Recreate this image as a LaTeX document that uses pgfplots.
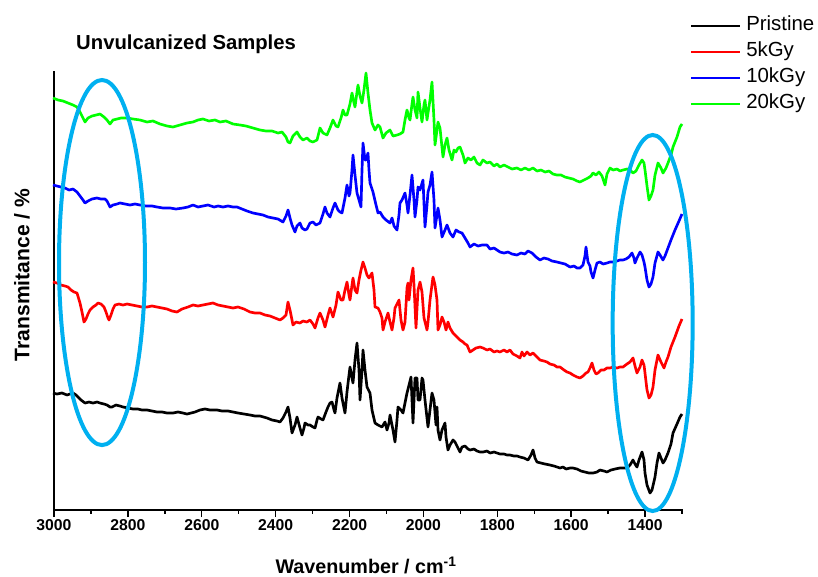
\documentclass[border=0pt]{standalone}
\usepackage{fontspec}
\setmainfont{Liberation Sans}
\usepackage{pgfplots}
\pgfplotsset{compat=1.18}
\usepackage{pgfplotstable}
\definecolor{ell}{RGB}{0,176,240}
\definecolor{cgreen}{RGB}{0,255,0}
\definecolor{cblue}{RGB}{0,0,255}
\definecolor{cred}{RGB}{255,0,0}

% px = horizontal pixel position (3000 cm-1 at 54, 1300 cm-1 at 682), py = vertical pixel position
\pgfplotstableread{
px py
53 393
57 394
62 393
67 395
70 394
73 393
76 395
78 397
81 400
85 403
89 402
93 403
97 402
100 403
104 404
107 405
110 407
112 407
116 405
120 406
123 407
128 408
133 409
138 409
142 410
147 410
152 411
157 412
162 412
167 413
173 413
178 412
183 413
187 414
191 413
195 412
200 410
205 409
210 410
217 410
222 411
228 411
233 412
238 413
244 414
250 415
255 416
260 416
267 418
272 420
277 421
280 422
283 418
286 412
288 407
290 418
292 433
295 425
297 417
300 428
302 435
304 428
305 423
308 425
310 425
313 427
315 428
317 420
318 417
321 419
323 420
326 412
328 407
330 403
332 402
334 410
335 413
337 398
340 383
342 398
345 413
347 392
349 375
350 367
352 378
353 383
355 360
357 343
359 370
360 400
362 370
363 350
365 370
367 387
370 393
372 410
375 423
378 425
382 427
385 422
387 430
389 423
390 415
393 430
395 442
397 420
398 407
401 410
403 413
405 403
407 393
409 385
411 377
412 400
413 423
415 378
417 378
418 400
420 400
422 378
423 380
425 400
428 427
430 410
432 393
434 400
436 425
437 407
438 430
440 440
442 430
445 423
446 437
448 450
450 445
453 440
455 442
458 448
460 452
462 447
465 446
468 449
470 450
474 449
477 451
480 452
483 452
487 451
490 453
494 452
497 453
500 454
504 454
507 455
510 455
514 456
517 456
520 457
524 458
528 460
531 455
533 450
535 458
537 462
541 463
545 464
550 465
554 466
557 467
560 468
563 467
566 469
570 468
573 468
577 469
581 471
585 472
589 473
593 473
597 472
600 470
604 471
607 472
611 470
615 469
620 468
624 468
627 468
630 465
633 460
635 464
637 467
639 460
642 452
644 460
645 473
647 485
650 493
652 490
655 477
657 463
659 453
661 458
663 463
665 460
668 453
671 444
673 433
677 424
680 417
682 414
}\pristine

\pgfplotstableread{
px py
53 282
57 283
61 285
65 286
68 287
71 290
74 292
77 293
80 303
82 312
84 322
86 319
88 314
90 310
93 307
96 305
98 303
101 304
104 307
106 312
108 318
109 320
111 315
113 309
115 305
119 304
123 305
127 304
132 305
137 306
142 307
147 307
152 306
157 307
162 308
167 309
172 311
177 312
182 309
188 307
193 305
198 306
203 305
208 304
213 303
218 305
223 306
228 307
233 308
238 307
244 309
250 312
255 313
260 313
265 315
270 316
275 318
280 320
283 318
286 315
288 302
290 310
293 325
296 322
300 323
303 321
307 322
310 320
313 324
315 328
318 318
320 313
323 320
325 327
328 315
330 308
333 317
336 305
338 292
341 300
343 300
345 290
347 282
349 295
350 300
352 285
353 278
355 290
357 293
359 280
361 270
363 262
365 268
367 275
369 278
372 273
374 290
375 307
378 308
380 312
382 318
383 330
385 322
388 313
390 322
392 330
394 318
395 308
397 304
399 300
401 320
403 330
405 322
407 288
408 283
409 300
411 280
413 268
414 285
416 328
418 290
420 282
422 292
424 318
427 330
428 322
430 300
433 277
435 285
437 300
438 330
440 325
442 317
444 322
446 330
448 322
450 328
453 333
455 335
458 338
460 340
463 342
465 344
467 345
470 352
473 350
476 348
480 347
483 348
487 350
490 349
494 352
497 351
500 352
504 350
507 352
510 350
513 354
517 356
520 358
522 352
524 356
527 352
530 355
533 353
537 357
540 360
544 361
547 362
550 364
554 365
557 367
560 367
564 370
567 372
570 373
573 375
577 377
580 378
583 376
586 373
588 372
590 368
592 363
594 370
596 374
598 373
601 370
604 370
607 368
610 368
613 367
617 368
620 367
623 367
627 364
630 362
633 358
635 366
637 373
640 367
642 360
644 365
645 373
647 390
649 398
651 395
653 387
655 370
658 355
661 362
664 368
666 362
668 357
671 347
675 337
679 326
682 319
}\fivekgy

\pgfplotstableread{
px py
53 185
57 186
61 187
65 188
69 190
73 189
77 192
80 196
83 200
85 203
88 201
92 199
97 198
101 199
105 199
107 201
110 207
113 205
117 204
120 203
125 204
130 205
135 204
140 205
146 206
152 206
157 207
163 208
170 208
176 209
183 208
188 207
193 205
198 207
203 206
208 205
214 207
218 206
223 207
228 206
233 207
237 207
242 209
247 211
253 213
258 214
263 215
268 217
273 218
278 219
283 222
286 216
288 210
290 218
292 225
295 232
297 226
300 223
302 228
305 230
307 229
310 223
313 222
316 225
320 223
323 214
325 207
327 213
330 217
333 208
335 203
338 210
340 212
342 213
345 198
347 185
349 196
350 193
352 170
353 155
355 175
357 193
359 200
361 207
362 170
363 143
365 160
366 160
368 153
369 170
370 183
373 192
376 205
378 213
380 212
383 217
386 220
390 223
392 218
394 226
397 230
399 215
400 203
402 200
405 193
407 205
408 213
410 195
412 175
414 200
415 217
417 200
418 187
420 190
423 180
425 227
427 205
428 192
430 185
432 172
434 200
435 228
437 215
438 208
440 220
442 237
445 230
447 225
450 233
453 237
456 230
459 232
462 233
465 238
468 243
470 247
474 244
478 246
482 245
487 245
490 249
494 248
497 250
500 252
504 253
508 252
512 254
517 255
521 253
525 254
528 251
532 253
536 257
540 260
544 258
548 259
552 261
557 262
561 263
565 264
570 267
574 266
577 268
580 268
583 265
585 256
586 247
587 255
588 262
590 266
591 272
593 278
595 270
597 263
600 262
603 264
607 263
610 262
613 262
617 261
620 260
623 260
626 259
629 257
632 253
634 258
635 263
637 258
640 252
642 255
644 262
645 267
647 280
649 287
651 284
653 277
655 263
658 252
660 255
663 260
665 256
668 248
671 240
675 230
679 221
682 214
}\tenkgy

\pgfplotstableread{
px py
53 98
58 100
63 101
68 103
73 105
77 107
80 112
83 118
85 122
88 118
92 116
96 115
100 114
104 117
107 120
110 124
113 120
117 119
121 118
127 118
133 119
140 120
147 122
153 121
160 124
167 126
173 127
180 125
187 123
193 122
198 120
203 119
209 121
215 120
220 122
226 121
233 124
240 125
246 126
253 128
260 130
266 131
272 131
278 133
282 132
286 137
288 142
290 143
293 136
297 132
300 137
303 140
307 138
310 141
313 142
317 140
320 128
323 133
327 135
330 128
333 120
336 126
338 127
341 118
343 110
345 115
347 115
350 104
352 93
354 103
355 107
357 92
358 85
360 96
362 103
364 90
366 73
368 93
370 110
372 123
375 130
378 125
380 127
383 138
386 133
390 130
393 136
397 135
400 134
403 132
405 120
407 110
409 118
410 120
412 104
413 97
415 110
417 118
418 92
420 108
422 122
424 105
425 100
427 120
428 113
430 100
432 82
434 120
435 145
437 130
438 122
440 128
443 157
445 145
447 138
449 150
452 160
454 150
456 152
458 148
460 147
463 155
465 163
468 158
471 160
474 157
477 163
480 165
483 160
487 163
490 162
494 166
497 164
500 167
504 165
508 167
512 169
517 168
521 170
525 168
529 170
533 168
537 171
541 170
545 172
549 171
553 174
557 175
561 175
565 177
569 178
573 179
577 181
580 182
584 180
588 178
591 176
593 173
596 175
599 172
602 176
605 185
607 174
610 168
613 170
617 169
620 171
623 170
627 169
630 170
633 173
636 171
639 165
642 160
644 163
645 170
647 186
649 200
651 196
653 190
655 175
658 163
661 168
663 173
666 168
668 163
671 155
673 147
677 137
680 127
682 124
}\twentykgy

\begin{document}
\begin{tikzpicture}
\begin{axis}[
  scale only axis,
  width=471pt, height=328.875pt,
  xmin=-3000, xmax=-1300, ymin=0, ymax=438.5,
  clip=false,
  axis lines*=left,
  axis line style={line width=1.2pt, line cap=rect},
  every tick/.style={black, line width=1.1pt},
  xtick={-3000,-2800,-2600,-2400,-2200,-2000,-1800,-1600,-1400},
  xticklabels={3000,2800,2600,2400,2200,2000,1800,1600,1400},
  minor xtick={-2900,-2700,-2500,-2300,-2100,-1900,-1700,-1500,-1300},
  ytick=\empty,
  minor ytick={10.5,37.25,64,90.75,117.5,144.25,171,197.75,224.5,251.25,278,304.75,331.5,358.25,385,411.75,438.5},
  xtick align=outside, ytick align=inside,
  major tick length=5.25pt, minor tick length=2.7pt,
  /pgf/number format/assume math mode=true,
  xticklabel style={font=\bfseries\fontsize{11.8}{13}\selectfont, inner sep=0pt, yshift=-2pt},
  xlabel={Wavenumber / cm\textsuperscript{-1}},
  xlabel style={at={(axis description cs:0.497,-0.1437)}, anchor=base, font=\bfseries\fontsize{14.8}{16}\selectfont, inner sep=0pt},
  ylabel={Transmitance / \%},
  ylabel style={at={(axis description cs:-0.051,0.536)}, anchor=center, font=\bfseries\fontsize{15.8}{17}\selectfont, inner sep=0pt},
  title={Unvulcanized Samples},
  title style={at={(axis description cs:0.035,1.033)}, anchor=base west, font=\bfseries\fontsize{15.2}{18}\selectfont, inner sep=0pt},
  legend style={at={(axis description cs:1.0128,1.130)}, anchor=north west, draw=none, fill=none,
    font=\fontsize{15.3}{17}\selectfont, row sep=3pt, inner sep=0pt,
    nodes={text height=11pt, text depth=3.5pt, inner sep=1pt},
    /tikz/every odd column/.append style={column sep=3pt}},
  legend cell align=left,
  legend image code/.code={\draw[#1, line width=1.5pt] (0pt,0pt) -- (36.5pt,0pt);},
]
\addplot[black, line width=2pt, line join=round, no markers] table[x expr={\thisrow{px}*2.70701-3146.18}, y expr={510-\thisrow{py}}]{\pristine};
\addplot[cred, line width=2pt, line join=round, no markers] table[x expr={\thisrow{px}*2.70701-3146.18}, y expr={510-\thisrow{py}}]{\fivekgy};
\addplot[cblue, line width=2pt, line join=round, no markers] table[x expr={\thisrow{px}*2.70701-3146.18}, y expr={510-\thisrow{py}}]{\tenkgy};
\addplot[cgreen, line width=2pt, line join=round, no markers] table[x expr={\thisrow{px}*2.70701-3146.18}, y expr={510-\thisrow{py}}]{\twentykgy};
\legend{Pristine,5kGy,10kGy,20kGy}
\coordinate (o) at (rel axis cs:0,0);
\end{axis}
\draw[ell, line width=3pt] ([shift={(36pt,185.6pt)}]o) ellipse [x radius=32.25pt, y radius=136.9pt];
\draw[ell, line width=3pt] ([shift={(449pt,140.25pt)}]o) ellipse [x radius=30pt, y radius=141pt];
\pgfresetboundingbox
\path ([shift={(-40.5pt,-49.5pt)}]o) rectangle ++(613.5pt,432pt);
\end{tikzpicture}
\end{document}
